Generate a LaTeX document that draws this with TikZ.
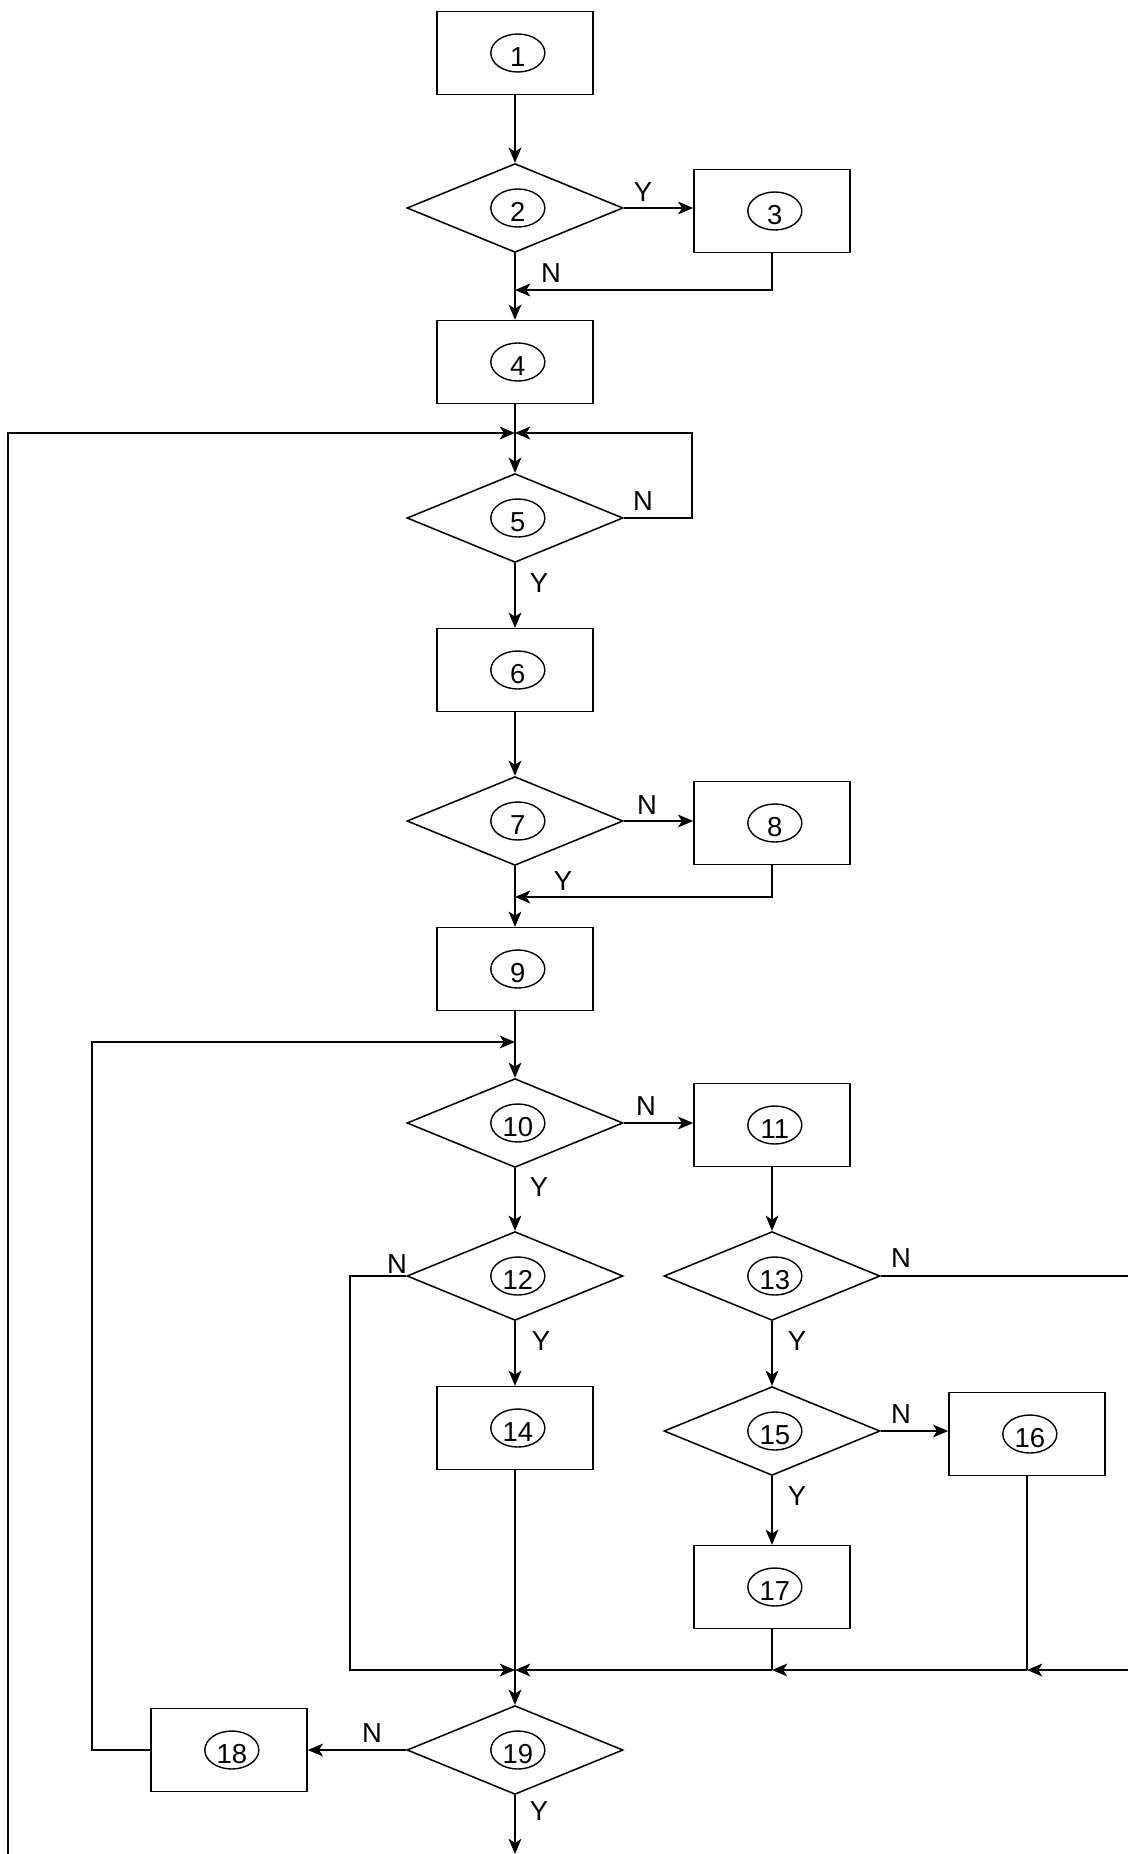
\documentclass[tikz,border=0pt]{standalone}
\usepackage{fontspec}
\setmainfont{Liberation Sans}
\usetikzlibrary{shapes.geometric,arrows.meta,positioning}

\tikzset{
    box/.style={draw, line width=1.1pt, minimum width=3.9cm, minimum height=2.07cm, inner sep=0pt},
    decision/.style={draw, diamond, line width=1.1pt, minimum width=5.4cm, minimum height=2.22cm, inner sep=0pt},
    num/.style={draw, ellipse, line width=1pt, minimum width=1.35cm, minimum height=0.95cm, inner sep=0pt,
        text height=0.67cm, text depth=0pt},
    yn/.style={font=\fontsize{19.5}{23}\selectfont, inner sep=0pt},
    arr/.style={line width=1.1pt, -{Stealth[length=0.38cm, width=0.32cm, inset=0.1cm]}},
    line/.style={line width=1.1pt}
}

\begin{document}
\begin{tikzpicture}[x=0.025cm, y=-0.025cm, font=\fontsize{19.5}{23}\selectfont]
    \useasboundingbox (0,0) rectangle (1128,1854);

    % Boxes and decisions
    \node[box] (b1) at (515,53) {};
    \node[decision] (d2) at (515,208) {};
    \node[box] (b3) at (772,211) {};
    \node[box] (b4) at (515,362) {};
    \node[decision] (d5) at (515,518) {};
    \node[box] (b6) at (515,670) {};
    \node[decision] (d7) at (515,821) {};
    \node[box] (b8) at (772,823) {};
    \node[box] (b9) at (515,969) {};
    \node[decision] (d10) at (515,1123) {};
    \node[box] (b11) at (772,1125) {};
    \node[decision] (d12) at (515,1276) {};
    \node[decision] (d13) at (772,1276) {};
    \node[box] (b14) at (515,1428) {};
    \node[decision] (d15) at (772,1431) {};
    \node[box] (b16) at (1027,1434) {};
    \node[box] (b17) at (772,1587) {};
    \node[box] (b18) at (229,1750) {};
    \node[decision] (d19) at (515,1750) {};

    % Circled numbers
    \foreach \s/\k in {b1/1, d2/2, b3/3, b4/4, d5/5, b6/6, d7/7, b8/8, b9/9, d10/10,
                       b11/11, d12/12, d13/13, b14/14, d15/15, b16/16, b17/17, b18/18, d19/19} {
        \node[num] (n\k) at ([xshift=2pt]\s) {\k};
    }

    % Junction points
    \coordinate (m3) at (515,290);
    \coordinate (m5) at (515,433);
    \coordinate (c5) at (692,433);
    \coordinate (lb) at (8,1854);
    \coordinate (m8) at (515,897);
    \coordinate (m10) at (515,1042);
    \coordinate (c18) at (92,1042);
    \coordinate (re13) at (1128,1276);
    \coordinate (m19) at (515,1670);
    \coordinate (c12) at (350,1670);
    \coordinate (c17) at (772,1670);
    \coordinate (c16) at (1027,1670);
    \coordinate (re19) at (1128,1670);
    \coordinate (bot) at (515,1854);

    % Connectors
    \draw[arr] (b1) -- (d2);
    \draw[arr] (d2.east) -- (d2.east -| b3.west);
    \draw[arr] (b3.south) |- (m3);
    \draw[arr] (d2.south) -- (b4.north);

    \draw[arr] (b4.south) -- (d5.north);
    \draw[arr] (lb) |- (m5);
    \draw[arr] (d5.east) -| (c5) -- (m5);
    \draw[arr] (d5.south) -- (b6.north);

    \draw[arr] (b6.south) -- (d7.north);
    \draw[arr] (d7.east) -- (d7.east -| b8.west);
    \draw[arr] (b8.south) |- (m8);
    \draw[arr] (d7.south) -- (b9.north);

    \draw[arr] (b9.south) -- (d10.north);
    \draw[arr] (b18.west) -| (c18) -- (m10);
    \draw[arr] (d10.east) -- (d10.east -| b11.west);
    \draw[arr] (d10.south) -- (d12.north);
    \draw[arr] (b11.south) -- (d13.north);

    \draw[arr] (d12.west) -| (c12) -- (m19);
    \draw[arr] (d12.south) -- (b14.north);
    \draw[line] (d13.east) -- (re13);
    \draw[arr] (d13.south) -- (d15.north);
    \draw[arr] (d15.east) -- (d15.east -| b16.west);
    \draw[arr] (d15.south) -- (b17.north);

    \draw[arr] (re19) -- (c16);
    \draw[line] (b16.south) -- (c16);
    \draw[arr] (c16) -- (c17);
    \draw[line] (b17.south) -- (c17);
    \draw[arr] (c17) -- (m19);
    \draw[arr] (b14.south) -- (d19.north);

    \draw[arr] (d19.west) -- (b18.east);
    \draw[arr] (d19.south) -- (bot);

    % Y / N labels
    \node[yn] (y2) at (643,192) {Y};
    \node[yn] (n2) at (551,273) {N};
    \node[yn] (n5) at (643,501) {N};
    \node[yn] (y5) at (539,583) {Y};
    \node[yn] (n7) at (647,805) {N};
    \node[yn] (y7) at (563,881) {Y};
    \node[yn] (n10) at (646,1106) {N};
    \node[yn] (y10) at (539,1187) {Y};
    \node[yn] (n12) at (397,1264) {N};
    \node[yn] (y12) at (541,1341) {Y};
    \node[yn] (n13) at (901,1258) {N};
    \node[yn] (y13) at (797,1341) {Y};
    \node[yn] (n15) at (901,1414) {N};
    \node[yn] (y15) at (797,1496) {Y};
    \node[yn] (n19) at (372,1733) {N};
    \node[yn] (y19) at (539,1811) {Y};
\end{tikzpicture}
\end{document}
